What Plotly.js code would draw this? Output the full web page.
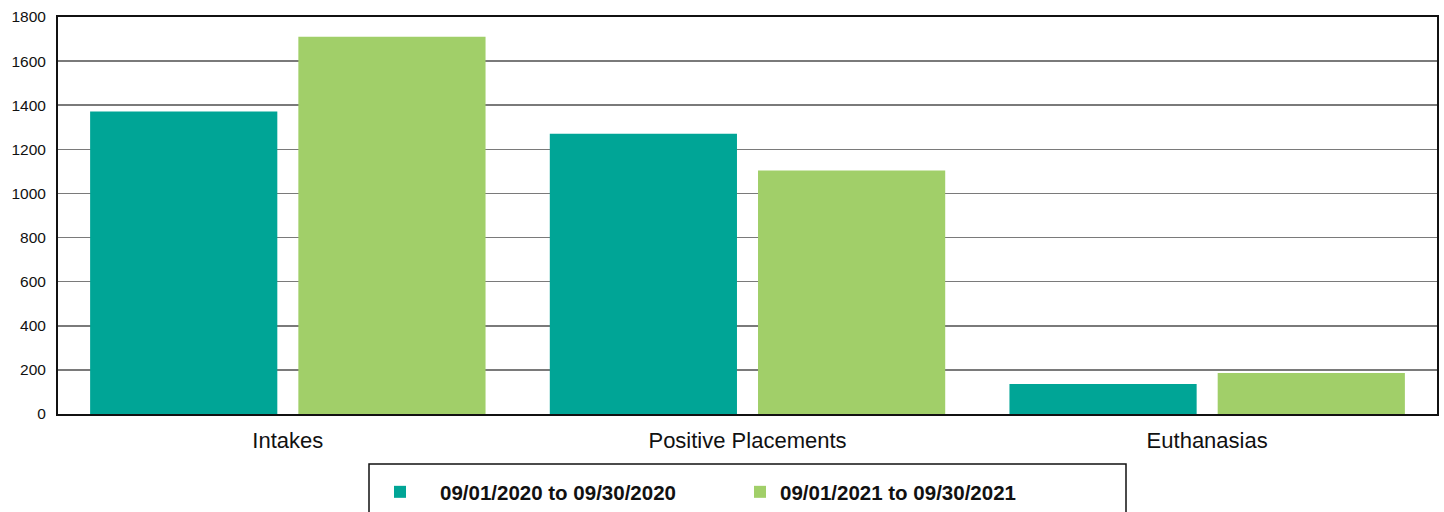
<!DOCTYPE html>
<html>
<head>
<meta charset="utf-8">
<script src="https://cdn.plot.ly/plotly-3.0.1.min.js"></script>
<style>html,body{margin:0;padding:0;background:#fff;}#chart{width:1444px;height:512px;}</style>
</head>
<body>
<div id="chart"></div>
<script>
const categories = ["Intakes", "Positive Placements", "Euthanasias"];
const seriesNames = ["09/01/2020 to 09/30/2020", "09/01/2021 to 09/30/2021"];
const values2020 = [1371, 1271, 136];
const values2021 = [1710, 1104, 186];
const yTicks = [0, 200, 400, 600, 800, 1000, 1200, 1400, 1600, 1800];

const traces = [
  {type: "bar", x: categories, y: values2020, name: seriesNames[0],
   marker: {color: "#00A596"}, legend: "legend", hoverinfo: "none"},
  {type: "bar", x: categories, y: values2021, name: seriesNames[1],
   marker: {color: "#A1CF69"}, legend: "legend2", hoverinfo: "none"}
];

const L = 58, T = 17, W = 1444, H = 512, R = 7, B = 98;
const pw = W - L - R, ph = H - T - B;
const px = v => (v - L) / pw;
const py = v => (H - B - v) / ph;
const cy = v => 1 - v / H;

const legendFont = {size: 20.5, color: "#111", family: "Liberation Sans, Arial, sans-serif", weight: "bold"};

const layout = {
  width: W, height: H,
  margin: {l: L, r: R, t: T, b: B, pad: 0},
  paper_bgcolor: "#fff", plot_bgcolor: "#fff",
  font: {family: "Liberation Sans, Arial, sans-serif", color: "#111"},
  barmode: "group", bargap: 0.094, bargroupgap: 0.101,
  showlegend: true,
  xaxis: {
    type: "category", showgrid: false, zeroline: false,
    showline: true, linecolor: "#111", linewidth: 2, mirror: true,
    ticks: "", tickfont: {size: 22, color: "#111"}, ticklabelstandoff: 6,
    fixedrange: true
  },
  yaxis: {
    range: [0, 1800], tickvals: yTicks, ticktext: yTicks.map(String),
    showgrid: true, gridcolor: "#7a7a7a", gridwidth: 1.5, zeroline: false,
    showline: true, linecolor: "#111", linewidth: 2, mirror: true,
    ticks: "", tickfont: {size: 15.5, color: "#111"}, ticklabelstandoff: 7,
    fixedrange: true
  },
  legend: {
    orientation: "h", xref: "paper", yref: "container",
    x: px(360), y: cy(472), xanchor: "left", yanchor: "top",
    bgcolor: "rgba(0,0,0,0)", borderwidth: 0, itemwidth: 70,
    font: legendFont, itemclick: false, itemdoubleclick: false
  },
  legend2: {
    orientation: "h", xref: "paper", yref: "container",
    x: px(740), y: cy(472), xanchor: "left", yanchor: "top",
    bgcolor: "rgba(0,0,0,0)", borderwidth: 0,
    font: legendFont, itemclick: false, itemdoubleclick: false
  },
  shapes: [{
    type: "rect", xref: "paper", yref: "paper",
    x0: px(369), x1: px(1126), y0: py(464), y1: py(560),
    line: {color: "#111", width: 1.5}, fillcolor: "rgba(0,0,0,0)", layer: "below"
  }]
};

Plotly.newPlot("chart", traces, layout, {displayModeBar: false, staticPlot: true});
</script>
</body>
</html>
